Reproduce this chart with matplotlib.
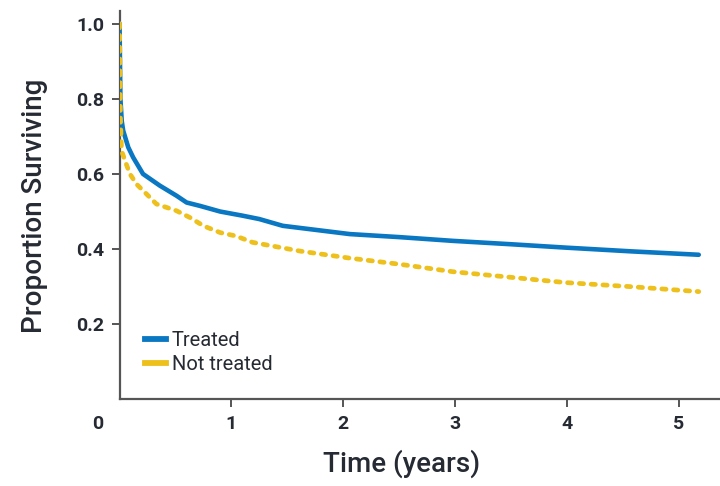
import matplotlib
matplotlib.use("Agg")
import matplotlib.pyplot as plt
from matplotlib.lines import Line2D

# Survival estimates per group (time in years, proportion surviving)
treated_time = [0, 0.008, 0.02, 0.033, 0.078, 0.122, 0.21, 0.36, 0.51, 0.60, 0.72,
                0.90, 1.10, 1.25, 1.46, 2.06, 2.5, 2.98, 3.5, 3.99, 4.58, 5.18]
treated_surv = [1.0, 0.80, 0.74, 0.715, 0.671, 0.644, 0.60, 0.569, 0.542, 0.524, 0.515,
                0.50, 0.489, 0.48, 0.462, 0.44, 0.432, 0.422, 0.413, 0.404, 0.394, 0.385]

untreated_time = [0, 0.008, 0.018, 0.048, 0.093, 0.152, 0.24, 0.33, 0.42, 0.51, 0.63,
                  0.75, 0.90, 1.04, 1.19, 1.61, 2.06, 2.5, 2.98, 3.5, 3.99, 4.58, 5.18]
untreated_surv = [1.0, 0.75, 0.662, 0.636, 0.60, 0.573, 0.547, 0.52, 0.511, 0.502, 0.484,
                  0.462, 0.444, 0.435, 0.418, 0.395, 0.376, 0.36, 0.34, 0.325, 0.311, 0.30, 0.287]

series_labels = ["Treated", "Not treated"]
x_ticks = [1, 2, 3, 4, 5]
y_ticks = [0.2, 0.4, 0.6, 0.8, 1.0]
y_tick_labels = ["0.2", "0.4", "0.6", "0.8", "1.0"]

FONT = "Roboto"
BLUE = "#0a77c2"
YELLOW = "#edc01c"
INK = "#262a33"
SPINE = "#555555"

fig = plt.figure(figsize=(7.2, 4.86), dpi=100)
ax = fig.add_axes([0.166, 0.178, 0.834, 0.799])

ax.plot(treated_time, treated_surv, color=BLUE, lw=3.3, solid_capstyle="round",
        solid_joinstyle="round", label=series_labels[0], zorder=3)
ax.plot(untreated_time, untreated_surv, color=YELLOW, lw=3.4, dash_capstyle="round",
        dashes=(0.9, 1.6), label=series_labels[1], zorder=4)

ax.set_xlim(0, 5.37)
ax.set_ylim(0, 1.033)
ax.set_xticks(x_ticks)
ax.set_xticklabels([str(v) for v in x_ticks])
ax.set_yticks(y_ticks)
ax.set_yticklabels(y_tick_labels)

for s in ("top", "right"):
    ax.spines[s].set_visible(False)
for s in ("left", "bottom"):
    ax.spines[s].set_color(SPINE)
    ax.spines[s].set_linewidth(1.6)

ax.tick_params(axis="both", direction="out", length=6, width=1.4, color=SPINE,
               pad=5, labelcolor=INK)
for lab in ax.get_xticklabels() + ax.get_yticklabels():
    lab.set_fontfamily(FONT)
    lab.set_fontsize(14)
    lab.set_fontweight("bold")

# shared origin label in the corner
ax.annotate("0", xy=(0, 0), xycoords="data", xytext=(-16, -17.5), textcoords="offset points",
            ha="center", va="center", fontsize=14, fontweight="bold",
            fontfamily=FONT, color=INK)

ax.set_xlabel("Time (years)", fontfamily=FONT, fontsize=20, fontweight="medium",
              color=INK, labelpad=12)
ax.xaxis.label.set_x(0.47)
ax.set_ylabel("Proportion Surviving", fontfamily=FONT, fontsize=20, fontweight="medium",
              color=INK, labelpad=20)

handles = [Line2D([0], [0], color=BLUE, lw=4.2),
           Line2D([0], [0], color=YELLOW, lw=4.2)]
leg = ax.legend(handles, series_labels, loc="lower left", bbox_to_anchor=(0.013, 0.02),
                frameon=False, handlelength=1.0, handletextpad=0.3, labelspacing=0.25,
                prop={"family": FONT, "size": 14.5})
for t in leg.get_texts():
    t.set_color(INK)

fig.savefig("out.png", dpi=100)
